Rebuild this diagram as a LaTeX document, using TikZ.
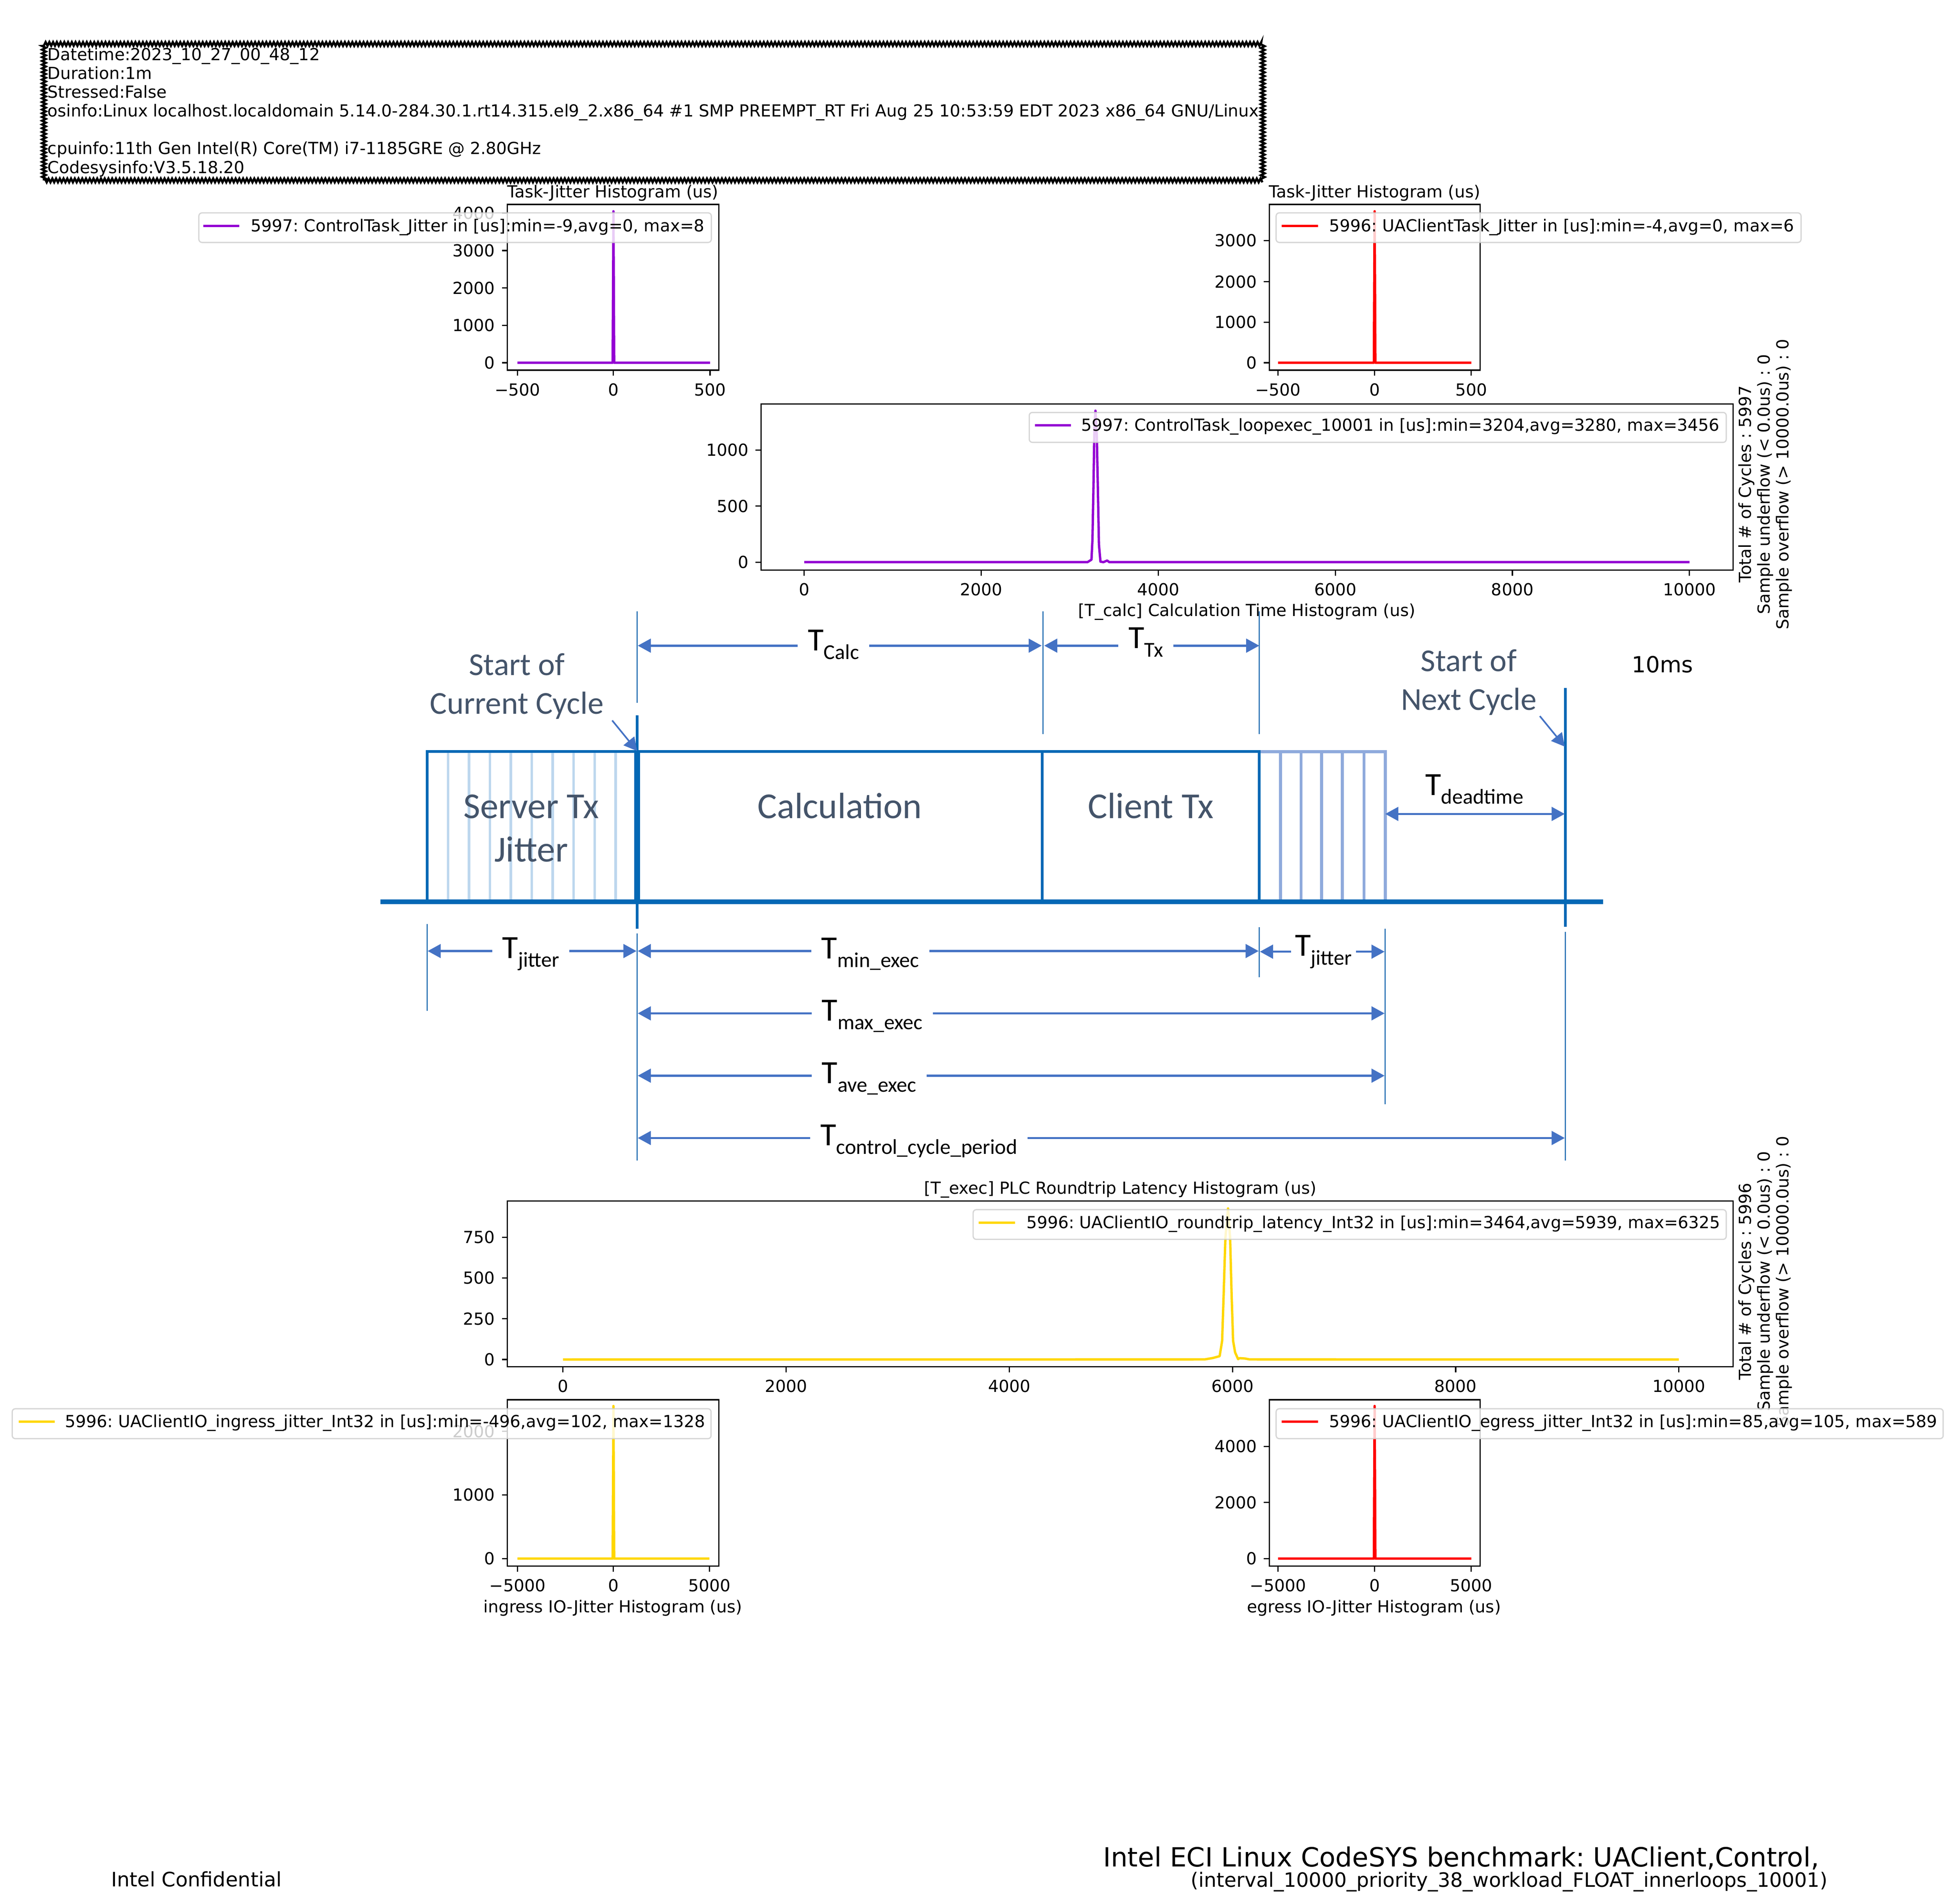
\documentclass[tikz,border=0pt]{standalone}
\usepackage{fontspec}
\usetikzlibrary{arrows.meta,decorations.pathmorphing}
\setmainfont{DejaVu Sans}
\newfontfamily\calibrifont{Carlito}
\frenchspacing
\definecolor{plotviolet}{HTML}{9400D3}
\definecolor{plotred}{HTML}{FF0000}
\definecolor{plotgold}{HTML}{FFD700}
\definecolor{cycleblue}{HTML}{0468B5}
\definecolor{lightblue}{HTML}{BDD7EE}
\definecolor{lightperi}{HTML}{8FAADC}
\definecolor{ruleblue}{HTML}{2E75B6}
\definecolor{dimblue}{HTML}{4472C4}
\definecolor{slatetext}{HTML}{44546A}
\newcommand{\mplfont}{\fontsize{13.32}{15.1}\selectfont}
\newcommand{\tsub}[1]{T{\fontsize{17}{17}\selectfont\raisebox{-7pt}{#1}}}
\tikzset{
  mpltext/.style={inner sep=0pt, font=\mplfont},
  headerbox/.style={draw, line width=1.8pt, decorate, decoration={zigzag, segment length=3pt, amplitude=1.5pt}, align=left, inner xsep=3pt, inner ysep=3pt, font=\mplfont},
  axesframe/.style={draw=black, line width=1pt},
  tickmark/.style={draw=black, line width=1pt},
  yticklabel/.style={mpltext, anchor=east, xshift=-5pt},
  xticklabel/.style={mpltext, anchor=north, yshift=-5.5pt},
  plotline/.style={line width=1.9pt, line join=round},
  legendbox/.style={draw=black!20, line width=1pt, fill=white, fill opacity=0.8, draw opacity=0.8, rounded corners=2.5pt, anchor=north west, inner sep=0pt},
  legendtext/.style={mpltext, anchor=base west},
  cycleline/.style={draw=cycleblue, line width=2.2pt},
  lightline/.style={draw=lightblue, line width=2pt},
  periline/.style={draw=lightperi, line width=2.4pt},
  thinrule/.style={draw=ruleblue, line width=0.9pt},
  dimarrow/.style={draw=dimblue, line width=1.7pt, -{Triangle[length=10.5pt,width=11pt]}},
  dimlabel/.style={anchor=base, inner xsep=8pt, inner ysep=0pt, font=\calibrifont\fontsize{26}{26}\selectfont},
  cycletext/.style={align=center, text=slatetext, inner sep=0pt, font=\calibrifont\fontsize{25.6}{31}\selectfont},
  blocktext/.style={align=center, text=slatetext, inner sep=0pt, font=\calibrifont\fontsize{29.3}{35}\selectfont}
}
\begin{document}
\begin{tikzpicture}[x=1pt,y=-1pt]
    \fill[white] (0,0) rectangle (1568,1527.3);
    % run info
    \node[headerbox] (runInfo) at (524,90) {Datetime:2023\_10\_27\_00\_48\_12\\
        Duration:1m\\
        Stressed:False\\
        osinfo:Linux localhost.localdomain 5.14.0-284.30.1.rt14.315.el9\_2.x86\_64 \#1 SMP PREEMPT\_RT Fri Aug 25 10:53:59 EDT 2023 x86\_64 GNU/Linux\\
        \mbox{}\\
        cpuinfo:11th Gen Intel(R) Core(TM) i7-1185GRE @ 2.80GHz\\
        Codesysinfo:V3.5.18.20};

    % control task jitter
    \draw[axesframe] (407,164) rectangle (576.5,297);
    \node[mpltext] (titleA) at (491.5,155) {Task-Jitter Histogram (us)};
    \draw[tickmark] (407,291) -- ++(-4.5,0) node[yticklabel] (aY0) {0};
    \draw[tickmark] (407,261) -- ++(-4.5,0) node[yticklabel] (aY1) {1000};
    \draw[tickmark] (407,231) -- ++(-4.5,0) node[yticklabel] (aY2) {2000};
    \draw[tickmark] (407,201) -- ++(-4.5,0) node[yticklabel] (aY3) {3000};
    \draw[tickmark] (407,171) -- ++(-4.5,0) node[yticklabel] (aY4) {4000};
    \draw[tickmark] (415,297) -- ++(0,4.5) node[xticklabel] (aX0) {−500};
    \draw[tickmark] (492,297) -- ++(0,4.5) node[xticklabel] (aX1) {0};
    \draw[tickmark] (569.5,297) -- ++(0,4.5) node[xticklabel] (aX2) {500};
    \draw[plotline, plotviolet] (415,291) -- (491.4,291) -- (492,169.5) -- (492.6,291) -- (569.5,291);
    \node[legendbox, minimum width=411pt, minimum height=23.7pt] (legendA) at (159,170.3) {};
    \draw[plotline, plotviolet] (163,181.4) -- (192,181.4);
    \node[legendtext] (legendTextA) at (201,185.8) {5997: ControlTask\_Jitter in [us]:min=-9,avg=0, max=8};

    % client task jitter
    \draw[axesframe] (1018,164) rectangle (1187,297);
    \node[mpltext] (titleB) at (1102.5,155) {Task-Jitter Histogram (us)};
    \draw[tickmark] (1018,291) -- ++(-4.5,0) node[yticklabel] (bY0) {0};
    \draw[tickmark] (1018,258.5) -- ++(-4.5,0) node[yticklabel] (bY1) {1000};
    \draw[tickmark] (1018,226) -- ++(-4.5,0) node[yticklabel] (bY2) {2000};
    \draw[tickmark] (1018,193) -- ++(-4.5,0) node[yticklabel] (bY3) {3000};
    \draw[tickmark] (1025,297) -- ++(0,4.5) node[xticklabel] (bX0) {−500};
    \draw[tickmark] (1102.5,297) -- ++(0,4.5) node[xticklabel] (bX1) {0};
    \draw[tickmark] (1180,297) -- ++(0,4.5) node[xticklabel] (bX2) {500};
    \draw[plotline, plotred] (1025,291) -- (1101.9,291) -- (1102.5,169.5) -- (1103.1,291) -- (1180,291);
    \node[legendbox, minimum width=421pt, minimum height=23.7pt] (legendB) at (1023,170.3) {};
    \draw[plotline, plotred] (1028,181.4) -- (1057,181.4);
    \node[legendtext] (legendTextB) at (1066,185.8) {5996: UAClientTask\_Jitter in [us]:min=-4,avg=0, max=6};

    % calculation time
    \draw[axesframe] (610.5,324) rectangle (1390,457.5);
    \draw[tickmark] (610.5,451) -- ++(-4.5,0) node[yticklabel] (cY0) {0};
    \draw[tickmark] (610.5,406) -- ++(-4.5,0) node[yticklabel] (cY1) {500};
    \draw[tickmark] (610.5,361) -- ++(-4.5,0) node[yticklabel] (cY2) {1000};
    \draw[tickmark] (645,457.5) -- ++(0,4.5) node[xticklabel] (cX0) {0};
    \draw[tickmark] (787,457.5) -- ++(0,4.5) node[xticklabel] (cX1) {2000};
    \draw[tickmark] (929,457.5) -- ++(0,4.5) node[xticklabel] (cX2) {4000};
    \draw[tickmark] (1071,457.5) -- ++(0,4.5) node[xticklabel] (cX3) {6000};
    \draw[tickmark] (1213,457.5) -- ++(0,4.5) node[xticklabel] (cX4) {8000};
    \draw[tickmark] (1355,457.5) -- ++(0,4.5) node[xticklabel] (cX5) {10000};
    \node[mpltext] (labelC) at (1000,491) {[T\_calc] Calculation Time Histogram (us)};
    \draw[plotline, plotviolet] (645,451) -- (872.2,451) -- (875.4,449) -- (876.2,432.7) -- (876.9,396) -- (877.8,341) -- (878.6,329.5) -- (879.7,350) -- (880.6,396) -- (881.4,437) -- (882.6,450.6) -- (885,451) -- (888,449.7) -- (889.7,451) -- (1355,451);
    \node[legendbox, minimum width=559pt, minimum height=24pt] (legendC) at (825,330.4) {};
    \draw[plotline, plotviolet] (830,341.2) -- (859,341.2);
    \node[legendtext] (legendTextC) at (867,345.8) {5997: ControlTask\_loopexec\_10001 in [us]:min=3204,avg=3280, max=3456};
    \node[mpltext, rotate=90, align=center] (cyclesC) at (1415.8,388.5) {Total \# of Cycles : 5997\\Sample underflow (< 0.0us) : 0\\Sample overflow (> 10000.0us) : 0};

    % roundtrip latency
    \draw[axesframe] (407,963.4) rectangle (1390,1096.6);
    \node[mpltext] (titleD) at (898.5,954.5) {[T\_exec] PLC Roundtrip Latency Histogram (us)};
    \draw[tickmark] (407,1090.7) -- ++(-4.5,0) node[yticklabel] (dY0) {0};
    \draw[tickmark] (407,1058) -- ++(-4.5,0) node[yticklabel] (dY1) {250};
    \draw[tickmark] (407,1025.3) -- ++(-4.5,0) node[yticklabel] (dY2) {500};
    \draw[tickmark] (407,992.6) -- ++(-4.5,0) node[yticklabel] (dY3) {750};
    \draw[tickmark] (451.5,1096.6) -- ++(0,4.5) node[xticklabel] (dX0) {0};
    \draw[tickmark] (630.5,1096.6) -- ++(0,4.5) node[xticklabel] (dX1) {2000};
    \draw[tickmark] (809.5,1096.6) -- ++(0,4.5) node[xticklabel] (dX2) {4000};
    \draw[tickmark] (988.5,1096.6) -- ++(0,4.5) node[xticklabel] (dX3) {6000};
    \draw[tickmark] (1167.5,1096.6) -- ++(0,4.5) node[xticklabel] (dX4) {8000};
    \draw[tickmark] (1346.5,1096.6) -- ++(0,4.5) node[xticklabel] (dX5) {10000};
    \draw[plotline, plotgold] (451.5,1090.7) -- (966.3,1090.6) -- (972.7,1089.5) -- (978.2,1088) -- (980.2,1075.7) -- (981.4,1039) -- (982.8,993.4) -- (984.9,969.5) -- (986.6,993.4) -- (987.8,1039) -- (989,1075.7) -- (990.6,1085) -- (993,1090.4) -- (994.2,1089.6) -- (998.5,1089.9) -- (1002.1,1090.6) -- (1346.5,1090.7);
    \node[mpltext, rotate=90, align=center] (cyclesD) at (1415.8,1028) {Total \# of Cycles : 5996\\Sample underflow (< 0.0us) : 0\\Sample overflow (> 10000.0us) : 0};
    \node[legendbox, minimum width=604pt, minimum height=23.8pt] (legendD) at (780,970) {};
    \draw[plotline, plotgold] (785,980.8) -- (814,980.8);
    \node[legendtext] (legendTextD) at (823,985.4) {5996: UAClientIO\_roundtrip\_latency\_Int32 in [us]:min=3464,avg=5939, max=6325};

    % ingress jitter
    \draw[axesframe] (407,1123) rectangle (576.5,1256.5);
    \draw[tickmark] (407,1250.4) -- ++(-4.5,0) node[yticklabel] (eY0) {0};
    \draw[tickmark] (407,1199.3) -- ++(-4.5,0) node[yticklabel] (eY1) {1000};
    \draw[tickmark] (407,1148.3) -- ++(-4.5,0) node[yticklabel] (eY2) {2000};
    \draw[tickmark] (415,1256.5) -- ++(0,4.5) node[xticklabel] (eX0) {−5000};
    \draw[tickmark] (492,1256.5) -- ++(0,4.5) node[xticklabel] (eX1) {0};
    \draw[tickmark] (569,1256.5) -- ++(0,4.5) node[xticklabel] (eX2) {5000};
    \node[mpltext] (labelE) at (491.5,1290) {ingress IO-Jitter Histogram (us)};
    \draw[plotline, plotgold] (415,1250.4) -- (491.4,1250.4) -- (492,1128) -- (492.6,1250.4) -- (569,1250.4);
    \node[legendbox, minimum width=560.5pt, minimum height=24pt] (legendE) at (9.3,1129.7) {};
    \draw[plotline, plotgold] (15,1140.5) -- (44,1140.5);
    \node[legendtext] (legendTextE) at (52,1145.1) {5996: UAClientIO\_ingress\_jitter\_Int32 in [us]:min=-496,avg=102, max=1328};

    % egress jitter
    \draw[axesframe] (1018,1123) rectangle (1187,1256.5);
    \draw[tickmark] (1018,1250.4) -- ++(-4.5,0) node[yticklabel] (fY0) {0};
    \draw[tickmark] (1018,1205.4) -- ++(-4.5,0) node[yticklabel] (fY1) {2000};
    \draw[tickmark] (1018,1160.4) -- ++(-4.5,0) node[yticklabel] (fY2) {4000};
    \draw[tickmark] (1025,1256.5) -- ++(0,4.5) node[xticklabel] (fX0) {−5000};
    \draw[tickmark] (1102.5,1256.5) -- ++(0,4.5) node[xticklabel] (fX1) {0};
    \draw[tickmark] (1180,1256.5) -- ++(0,4.5) node[xticklabel] (fX2) {5000};
    \node[mpltext] (labelF) at (1102,1290) {egress IO-Jitter Histogram (us)};
    \draw[plotline, plotred] (1025,1250.4) -- (1101.9,1250.4) -- (1102.5,1128) -- (1103.1,1250.4) -- (1180,1250.4);
    \node[legendbox, minimum width=535pt, minimum height=24pt] (legendF) at (1023,1129.7) {};
    \draw[plotline, plotred] (1028,1140.5) -- (1057,1140.5);
    \node[legendtext] (legendTextF) at (1066,1145.1) {5996: UAClientIO\_egress\_jitter\_Int32 in [us]:min=85,avg=105, max=589};

    % cycle blocks
    \draw[lightline] (359.3,603) -- (359.3,723);
    \draw[lightline] (376.1,603) -- (376.1,723);
    \draw[lightline] (392.9,603) -- (392.9,723);
    \draw[lightline] (409.7,603) -- (409.7,723);
    \draw[lightline] (426.5,603) -- (426.5,723);
    \draw[lightline] (443.3,603) -- (443.3,723);
    \draw[lightline] (460.1,603) -- (460.1,723);
    \draw[lightline] (476.9,603) -- (476.9,723);
    \draw[lightline] (493.7,603) -- (493.7,723);
    \draw[periline] (1010,603) -- (1111,603) -- (1111,723);
    \draw[periline] (1027,603) -- (1027,723);
    \draw[periline] (1043.5,603) -- (1043.5,723);
    \draw[periline] (1060,603) -- (1060,723);
    \draw[periline] (1076.5,603) -- (1076.5,723);
    \draw[periline] (1094,603) -- (1094,723);
    \draw[cycleline] (342.5,723) -- (342.5,603) -- (1010,603) -- (1010,723);
    \draw[cycleline] (836,603) -- (836,723);
    \draw[cycleline] (511,574) -- (511,745);
    \draw[cycleline, line width=4.5pt] (511,603) -- (511,723);
    \draw[cycleline] (1255.6,552) -- (1255.6,743.6);
    \draw[cycleline, line width=3.8pt] (305,723.5) -- (1285.6,723.5);
    \node[blocktext] (serverTx) at (426,664.5) {Server Tx\\Jitter};
    \node[blocktext] (calcBlock) at (673.5,646.5) {Calculation};
    \node[blocktext] (clientTx) at (923,646.5) {Client Tx};
    \node[cycletext] (startCurrent) at (414.5,550.5) {Start of\\Current Cycle};
    \node[cycletext] (startNext) at (1178,547.5) {Start of\\Next Cycle};
    \node[mpltext, font=\fontsize{17.8}{17.8}\selectfont] (periodText) at (1333.3,533) {10ms};
    \coordinate (currentFrom) at (491,578);
    \coordinate (currentTip) at (511,602.5);
    \coordinate (nextFrom) at (1235,574.5);
    \coordinate (nextTip) at (1255,599);
    \draw[dimarrow, line width=1.3pt] (currentFrom) -- (currentTip);
    \draw[dimarrow, line width=1.3pt] (nextFrom) -- (nextTip);

    % guide rules
    \draw[thinrule] (511,490.5) -- (511,564);
    \draw[thinrule] (836.5,490.5) -- (836.5,589);
    \draw[thinrule] (1010,490.5) -- (1010,589);
    \draw[thinrule] (342.5,741.5) -- (342.5,811);
    \draw[thinrule] (511,749) -- (511,931);
    \draw[thinrule] (1010,744) -- (1010,784);
    \draw[thinrule] (1111,745) -- (1111,886);
    \draw[thinrule] (1255.5,747.5) -- (1255.5,931);

    % spans above the blocks
    \coordinate (calcFrom) at (511.5,518);
    \coordinate (calcTo) at (835.5,518);
    \node[dimlabel] (tCalc) at (668.5,522) {\tsub{Calc}};
    \draw[dimarrow] (tCalc.west |- calcFrom) -- (calcFrom);
    \draw[dimarrow] (tCalc.east |- calcTo) -- (calcTo);
    \coordinate (txFrom) at (837.5,518);
    \coordinate (txTo) at (1010,518);
    \node[dimlabel] (tTx) at (919,520) {\tsub{Tx}};
    \draw[dimarrow] (tTx.west |- txFrom) -- (txFrom);
    \draw[dimarrow] (tTx.east |- txTo) -- (txTo);
    \coordinate (deadFrom) at (1111,653);
    \coordinate (deadTo) at (1255,653);
    \node[dimlabel] (tDead) at (1182.5,638) {\tsub{deadtime}};
    \draw[dimarrow, {Triangle[length=10.5pt,width=11pt]}-{Triangle[length=10.5pt,width=11pt]}] (deadFrom) -- (deadTo);

    % spans below the blocks
    \coordinate (jitterFrom) at (343,763);
    \coordinate (jitterTo) at (510.5,763);
    \node[dimlabel] (tJitterA) at (425.7,768.7) {\tsub{jitter}};
    \draw[dimarrow] (tJitterA.west |- jitterFrom) -- (jitterFrom);
    \draw[dimarrow] (tJitterA.east |- jitterTo) -- (jitterTo);
    \coordinate (minFrom) at (511.5,763);
    \coordinate (minTo) at (1009.5,763);
    \node[dimlabel] (tMin) at (698,769) {\tsub{min\_exec}};
    \draw[dimarrow] (tMin.west |- minFrom) -- (minFrom);
    \draw[dimarrow] (tMin.east |- minTo) -- (minTo);
    \coordinate (jitterTwoFrom) at (1010.5,763.5);
    \coordinate (jitterTwoTo) at (1110.5,763.5);
    \node[dimlabel, inner xsep=3pt] (tJitterB) at (1061.5,767) {\tsub{jitter}};
    \draw[dimarrow] (tJitterB.west |- jitterTwoFrom) -- (jitterTwoFrom);
    \draw[dimarrow] (tJitterB.east |- jitterTwoTo) -- (jitterTwoTo);
    \coordinate (maxFrom) at (511.5,813);
    \coordinate (maxTo) at (1110.5,813);
    \node[dimlabel] (tMax) at (699.5,819) {\tsub{max\_exec}};
    \draw[dimarrow] (tMax.west |- maxFrom) -- (maxFrom);
    \draw[dimarrow] (tMax.east |- maxTo) -- (maxTo);
    \coordinate (aveFrom) at (511.5,863);
    \coordinate (aveTo) at (1110.5,863);
    \node[dimlabel] (tAve) at (697,869) {\tsub{ave\_exec}};
    \draw[dimarrow] (tAve.west |- aveFrom) -- (aveFrom);
    \draw[dimarrow] (tAve.east |- aveTo) -- (aveTo);
    \coordinate (periodFrom) at (511.5,913);
    \coordinate (periodTo) at (1255,913);
    \node[dimlabel] (tPeriod) at (737,919) {\tsub{control\_cycle\_period}};
    \draw[dimarrow] (tPeriod.west |- periodFrom) -- (periodFrom);
    \draw[dimarrow] (tPeriod.east |- periodTo) -- (periodTo);

    % footer
    \node[mpltext, anchor=base west, font=\fontsize{16}{16}\selectfont] (confidential) at (89,1513.5) {Intel Confidential};
    \node[mpltext, anchor=base west, font=\fontsize{21.2}{21.2}\selectfont] (benchTitle) at (884.5,1497.7) {Intel ECI Linux CodeSYS benchmark: UAClient,Control,};
    \node[mpltext, anchor=base west, font=\fontsize{15.85}{15.85}\selectfont] (benchParams) at (955,1514) {(interval\_10000\_priority\_38\_workload\_FLOAT\_innerloops\_10001)};
\end{tikzpicture}
\end{document}
